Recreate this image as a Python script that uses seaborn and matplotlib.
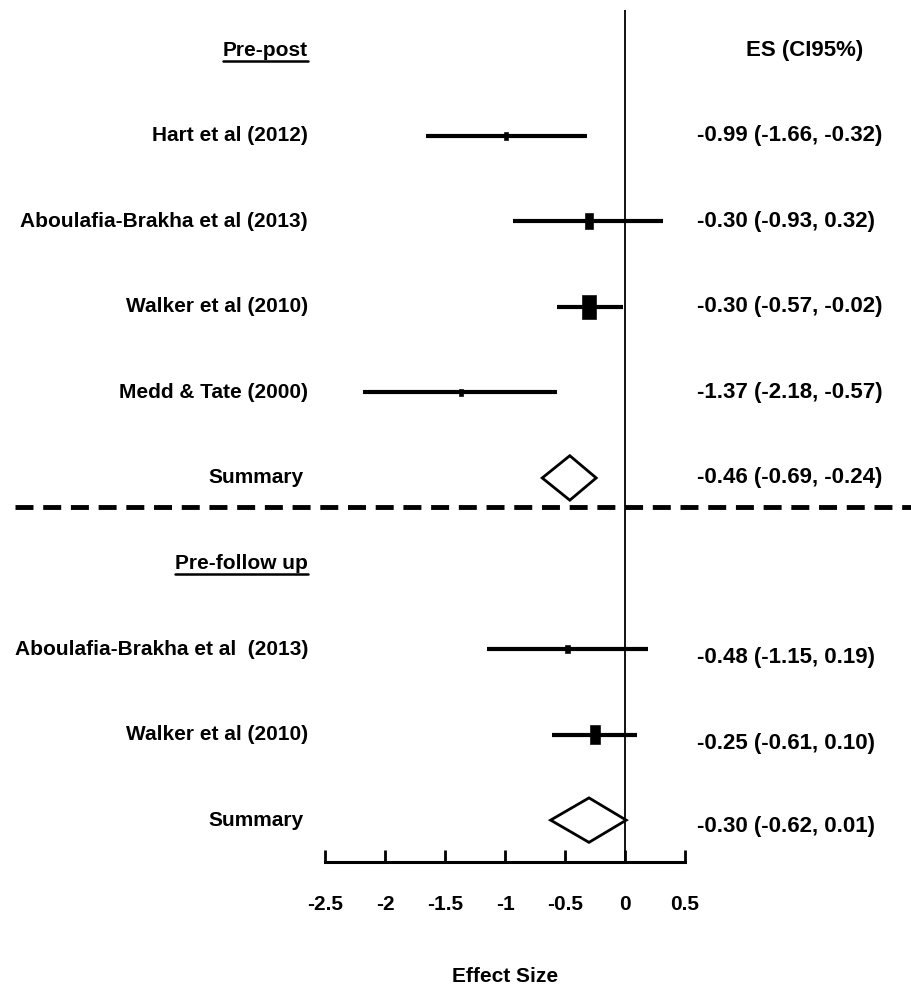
import matplotlib
matplotlib.use("Agg")
import matplotlib.pyplot as plt
import numpy as np
import pandas as pd
import seaborn as sns

# study rows (top to bottom)
studies = ["Hart et al (2012)", "Aboulafia-Brakha et al (2013)", "Walker et al (2010)",
           "Medd & Tate (2000)", "Aboulafia-Brakha et al  (2013)", "Walker et al (2010)"]
study_rows = [1, 2, 3, 4, 7, 8]
effect = [-0.99, -0.30, -0.30, -1.37, -0.48, -0.25]
ci_low = [-1.66, -0.93, -0.57, -2.18, -1.15, -0.61]
ci_high = [-0.32, 0.32, -0.02, -0.57, 0.19, 0.10]
weight = [1, 3, 6, 1, 1, 4]

summary_rows = [5, 9]
summary_effect = [-0.46, -0.30]
summary_low = [-0.69, -0.62]
summary_high = [-0.24, 0.01]

headers = ["Pre-post", "Pre-follow up"]
header_rows = [0, 6]
divider_row = 5.34

xticks = [-2.5, -2, -1.5, -1, -0.5, 0, 0.5]
xtick_labels = ["-2.5", "-2", "-1.5", "-1", "-0.5", "0", "0.5"]

sns.set_theme(style="white")
plt.rcParams["font.family"] = ["Liberation Sans", "DejaVu Sans"]
plt.rcParams["font.weight"] = "bold"
plt.rcParams["text.color"] = "black"

fig = plt.figure(figsize=(9.12, 9.92), dpi=100)
ax = fig.add_axes([0.3564, 0.1310, 0.3947, 0.8589])
ax.set_xlim(-2.5, 0.5)
ax.set_ylim(9.49, -0.47)

df = pd.DataFrame({"effect": effect, "row": study_rows, "weight": weight})

# confidence intervals
ax.hlines(study_rows, ci_low, ci_high, color="black", lw=3)
rect = [(-0.55, -1), (0.55, -1), (0.55, 1), (-0.55, 1), (-0.55, -1)]
sns.scatterplot(data=df, x="effect", y="row", size="weight", sizes=(30, 300),
                marker=rect, color="black", edgecolor="black", legend=False, ax=ax, zorder=3)

# summary diamonds
for r, m, lo, hi in zip(summary_rows, summary_effect, summary_low, summary_high):
    ax.fill([lo, m, hi, m, lo], [r, r - 0.26, r, r + 0.26, r],
            facecolor="white", edgecolor="black", lw=2, zorder=3)

ax.axvline(0, color="black", lw=1.3, zorder=1)

# divider between sections
ax.plot([-5.08, 2.40], [divider_row, divider_row], color="black", lw=3.5,
        linestyle=(0, (3.7, 2.0)), clip_on=False)

label_x = -2.642
value_x = 0.60
fs = 15
vfs = 16

for name, r in zip(studies, study_rows):
    ax.text(label_x, r, name, ha="right", va="center", fontsize=fs, fontweight="bold", clip_on=False)
for r in summary_rows:
    ax.text(label_x - 0.04, r, "Summary", ha="right", va="center", fontsize=fs, fontweight="bold", clip_on=False)

header_texts = []
for h, r in zip(headers, header_rows):
    t = ax.text(label_x, r, h, ha="right", va="center", fontsize=fs, fontweight="bold", clip_on=False)
    header_texts.append(t)

ax.text(1.5, 0, "ES (CI95%)", ha="center", va="center", fontsize=vfs, fontweight="bold", clip_on=False)

for i, r in enumerate(study_rows):
    off = 0.1 if r > 6 else 0
    ax.text(value_x, r + off, f"{effect[i]:.2f} ({ci_low[i]:.2f}, {ci_high[i]:.2f})",
            ha="left", va="center", fontsize=vfs, fontweight="bold", clip_on=False)
for i, r in enumerate(summary_rows):
    off = 0.08 if r > 6 else 0
    ax.text(value_x, r + off, f"{summary_effect[i]:.2f} ({summary_low[i]:.2f}, {summary_high[i]:.2f})",
            ha="left", va="center", fontsize=vfs, fontweight="bold", clip_on=False)

# underline the section headers
fig.canvas.draw()
renderer = fig.canvas.get_renderer()
inv = ax.transData.inverted()
for t in header_texts:
    bb = t.get_window_extent(renderer)
    (x0, y0), (x1, _) = inv.transform([(bb.x0, bb.y0 - 1), (bb.x1, bb.y0 - 1)])
    ax.plot([x0, x1], [y0, y0], color="black", lw=1.8, clip_on=False)

for s in ["left", "top", "right"]:
    ax.spines[s].set_visible(False)
ax.spines["bottom"].set_linewidth(2.2)
ax.spines["bottom"].set_color("black")
ax.set_yticks([])
ax.set_ylabel("")
ax.set_xticks(xticks)
ax.set_xticklabels(xtick_labels, fontsize=15, fontweight="bold", color="black")
ax.tick_params(axis="x", direction="in", length=9, width=2, color="black", pad=24, bottom=True)
ax.set_xlabel("Effect Size", fontsize=15, fontweight="bold", labelpad=38, color="black")

fig.savefig("out.png", dpi=100)
